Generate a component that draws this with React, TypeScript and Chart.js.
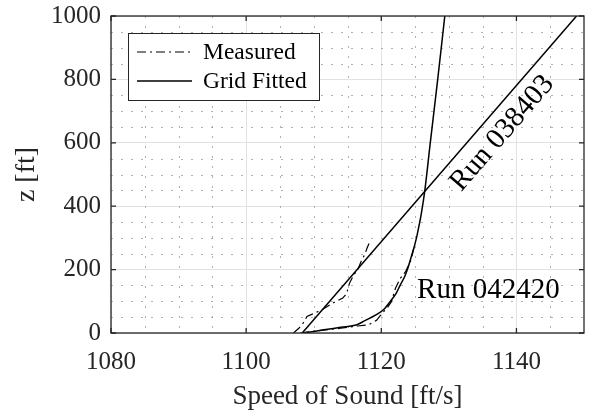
import { useEffect, useRef } from "react";
import { Chart, registerables } from "chart.js";

Chart.register(...registerables);

// ---- data ----
const fitted038Speed = [1108.3, 1148.9];
const fitted038Z = [0, 1000];

const measured038Speed = [1107.0, 1107.8, 1108.4, 1109.0, 1111.2, 1112.8, 1114.3, 1114.9, 1115.1, 1115.4, 1116.0, 1116.6, 1117.0, 1117.6, 1117.9, 1118.2];
const measured038Z = [0, 15, 30, 52, 73, 94, 110, 125, 145, 162, 185, 204, 225, 250, 268, 283];

const fitted042Speed = [1108.3, 1109.5, 1111.5, 1114.0, 1116.4, 1117.5, 1119.2, 1120.4, 1121.3, 1122.2, 1122.8, 1123.5, 1124.0, 1124.5, 1124.95, 1125.3, 1125.6, 1125.95, 1126.45, 1127.25, 1128.35, 1129.4];
const fitted042Z = [0, 3, 10, 18, 26, 38, 57, 75, 99, 125, 151, 180, 209, 245, 278, 309, 340, 380, 451, 600, 800, 1000];

const measured042Speed = [1108.0, 1111.0, 1114.0, 1116.5, 1118.1, 1119.3, 1120.1, 1120.9, 1121.5, 1121.8, 1122.1, 1122.8, 1123.6, 1124.3, 1124.6, 1124.8, 1125.0];
const measured042Z = [0, 8, 15, 22, 26, 40, 62, 80, 99, 120, 141, 172, 194, 225, 248, 267, 278];

const xTickValues = [1080, 1100, 1120, 1140];
const yTickValues = [0, 200, 400, 600, 800, 1000];
const xMinorValues = [1085, 1090, 1095, 1105, 1110, 1115, 1125, 1130, 1135, 1145];
const yMinorValues = [50, 100, 150, 250, 300, 350, 450, 500, 550, 650, 700, 750, 850, 900, 950];

const legendLabels = ["Measured", "Grid Fitted"];
const runLabels = ["Run 038403", "Run 042420"];

const FONT = "'Liberation Serif', 'Times New Roman', Times, serif";
const AXIS_COLOR = "#262626";
const DASH_DOT = [9, 4, 2, 4];

function toPoints(xs: number[], ys: number[]) {
  return xs.map((x, i) => ({ x, y: ys[i] }));
}

const decorPlugin = {
  id: "decor",
  beforeDatasetsDraw(chart: any) {
    const { ctx, chartArea: a, scales } = chart;
    const x = scales.x;
    const y = scales.y;
    ctx.save();
    ctx.strokeStyle = "rgba(150,150,150,0.75)";
    ctx.lineWidth = 1;
    ctx.setLineDash([2, 8]);
    ctx.beginPath();
    xMinorValues.forEach((v) => {
      const px = Math.round(x.getPixelForValue(v)) + 0.5;
      ctx.moveTo(px, a.top);
      ctx.lineTo(px, a.bottom);
    });
    yMinorValues.forEach((v) => {
      const py = Math.round(y.getPixelForValue(v)) + 0.5;
      ctx.moveTo(a.left, py);
      ctx.lineTo(a.right, py);
    });
    ctx.stroke();
    ctx.restore();
  },
  afterDraw(chart: any) {
    const { ctx, chartArea: a, scales } = chart;
    const x = scales.x;
    const y = scales.y;
    ctx.save();
    // frame
    ctx.strokeStyle = AXIS_COLOR;
    ctx.lineWidth = 1.3;
    ctx.setLineDash([]);
    ctx.strokeRect(a.left, a.top, a.right - a.left, a.bottom - a.top);
    // inward ticks
    const tl = 5;
    ctx.beginPath();
    xTickValues.forEach((v) => {
      const px = x.getPixelForValue(v);
      ctx.moveTo(px, a.bottom);
      ctx.lineTo(px, a.bottom - tl);
      ctx.moveTo(px, a.top);
      ctx.lineTo(px, a.top + tl);
    });
    yTickValues.forEach((v) => {
      const py = y.getPixelForValue(v);
      ctx.moveTo(a.left, py);
      ctx.lineTo(a.left + tl, py);
      ctx.moveTo(a.right, py);
      ctx.lineTo(a.right - tl, py);
    });
    ctx.stroke();

    // annotations
    const p0x = x.getPixelForValue(fitted038Speed[0]);
    const p0y = y.getPixelForValue(fitted038Z[0]);
    const p1x = x.getPixelForValue(fitted038Speed[1]);
    const p1y = y.getPixelForValue(fitted038Z[1]);
    const angle = Math.atan2(p1y - p0y, p1x - p0x);
    ctx.fillStyle = "#000";
    ctx.font = `29px ${FONT}`;
    ctx.textAlign = "center";
    ctx.textBaseline = "middle";
    ctx.save();
    ctx.translate(x.getPixelForValue(1137.9), y.getPixelForValue(630));
    ctx.rotate(angle);
    ctx.fillText(runLabels[0], 0, 0);
    ctx.restore();
    ctx.fillText(runLabels[1], x.getPixelForValue(1135.85), y.getPixelForValue(134));

    // legend
    const bx = a.left + 17;
    const by = a.top + 17;
    const bw = 191;
    const bh = 67;
    ctx.fillStyle = "#fff";
    ctx.fillRect(bx, by, bw, bh);
    ctx.strokeStyle = AXIS_COLOR;
    ctx.lineWidth = 1;
    ctx.strokeRect(bx + 0.5, by + 0.5, bw, bh);
    const rows = [by + 19, by + 48];
    const dss = [chart.data.datasets[0], chart.data.datasets[1]];
    rows.forEach((ry, i) => {
      const ds = dss[i];
      ctx.strokeStyle = ds.borderColor;
      ctx.lineWidth = ds.borderWidth;
      ctx.setLineDash(ds.borderDash || []);
      ctx.beginPath();
      ctx.moveTo(bx + 9, ry);
      ctx.lineTo(bx + 64, ry);
      ctx.stroke();
      ctx.setLineDash([]);
      ctx.fillStyle = "#000";
      ctx.font = `23.5px ${FONT}`;
      ctx.textAlign = "left";
      ctx.textBaseline = "middle";
      ctx.fillText(legendLabels[i], bx + 75, ry + 1);
    });
    ctx.restore();
  },
};

export default function App() {
  const ref = useRef<HTMLCanvasElement | null>(null);
  useEffect(() => {
    document.body.style.margin = "0";
    if (!ref.current) return;
    Chart.defaults.font.family = FONT;
    const chart = new Chart(ref.current, {
      type: "scatter",
      data: {
        datasets: [
          {
            label: "Measured 038403",
            data: toPoints(measured038Speed, measured038Z),
            showLine: true,
            borderColor: "#000",
            borderWidth: 1.2,
            borderDash: DASH_DOT,
            pointRadius: 0,
            fill: false,
          },
          {
            label: "Fitted 038403",
            data: toPoints(fitted038Speed, fitted038Z),
            showLine: true,
            borderColor: "#000",
            borderWidth: 1.5,
            pointRadius: 0,
            fill: false,
          },
          {
            label: "Measured 042420",
            data: toPoints(measured042Speed, measured042Z),
            showLine: true,
            borderColor: "#000",
            borderWidth: 1.2,
            borderDash: DASH_DOT,
            pointRadius: 0,
            fill: false,
          },
          {
            label: "Fitted 042420",
            data: toPoints(fitted042Speed, fitted042Z),
            showLine: true,
            borderColor: "#000",
            borderWidth: 1.5,
            pointRadius: 0,
            cubicInterpolationMode: "monotone",
            fill: false,
          },
        ],
      },
      options: {
        animation: false,
        responsive: false,
        maintainAspectRatio: false,
        layout: { padding: { top: 16, right: 8, left: 0, bottom: 0 } },
        plugins: { legend: { display: false }, tooltip: { enabled: false } },
        scales: {
          x: {
            type: "linear",
            min: 1080,
            max: 1150,
            afterBuildTicks: (ax: any) => {
              ax.ticks = xTickValues.map((value) => ({ value }));
            },
            afterFit: (s: any) => {
              s.height = 78;
            },
            border: { display: false },
            grid: { color: "#e2e2e2", lineWidth: 1, drawTicks: false },
            ticks: {
              color: AXIS_COLOR,
              font: { size: 25, family: FONT },
              padding: 14,
              maxRotation: 0,
              callback: (v: any) => String(v),
            },
            title: {
              display: true,
              text: "Speed of Sound [ft/s]",
              color: AXIS_COLOR,
              font: { size: 27, family: FONT, lineHeight: 1 },
              padding: { top: 0, bottom: 1 },
            },
          },
          y: {
            type: "linear",
            min: 0,
            max: 1000,
            afterBuildTicks: (ax: any) => {
              ax.ticks = yTickValues.map((value) => ({ value }));
            },
            afterFit: (s: any) => {
              s.width = 111;
            },
            border: { display: false },
            grid: { color: "#e2e2e2", lineWidth: 1, drawTicks: false },
            ticks: {
              color: AXIS_COLOR,
              font: { size: 25, family: FONT, lineHeight: 0.4 },
              padding: 10,
              callback: (v: any) => String(v),
            },
            title: {
              display: true,
              text: "z [ft]",
              color: AXIS_COLOR,
              font: { size: 28, family: FONT, lineHeight: 1 },
              padding: { top: 13, bottom: 0 },
            },
          },
        },
      },
      plugins: [decorPlugin],
    });
    return () => chart.destroy();
  }, []);
  return <canvas ref={ref} width={592} height={411} style={{ display: "block" }} />;
}
